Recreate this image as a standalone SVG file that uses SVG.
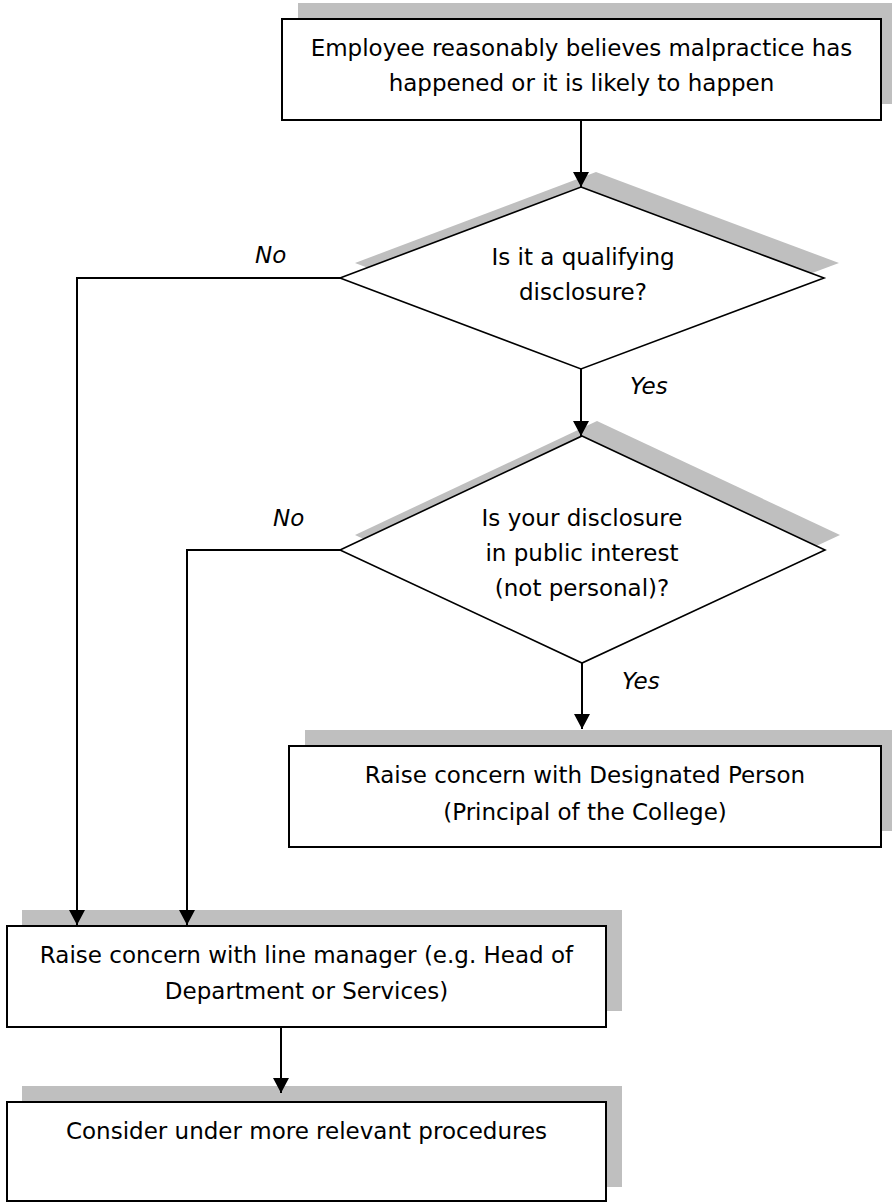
<svg xmlns="http://www.w3.org/2000/svg" width="892" height="1203" viewBox="0 0 892 1203">
<style>
.shadow{fill:#bfbfbf;stroke:none}
.box{fill:#fff;stroke:#000;stroke-width:2}
.dia{fill:#fff;stroke:#000;stroke-width:1.6}
.t{font-family:"DejaVu Sans",sans-serif;font-size:23px;fill:#000;text-anchor:middle}
.lbl{font-family:"DejaVu Sans",sans-serif;font-size:23px;font-style:italic;fill:#000}
.conn{fill:none;stroke:#000;stroke-width:2}
</style>
<defs>
<marker id="ah" markerUnits="userSpaceOnUse" viewBox="0 0 15 16" refX="15" refY="8" markerWidth="15" markerHeight="16" orient="auto"><path d="M0,0 L15,8 L0,16 Z" fill="#000"/></marker>
</defs>
<rect x="0" y="0" width="892" height="1203" fill="#fff"/>
<g id="n1">
<rect class="shadow" x="298" y="3" width="600" height="101"/>
<rect class="box" x="282" y="19" width="599" height="101"/>
<text class="t" x="581.5" y="56">Employee reasonably believes malpractice has</text>
<text class="t" x="581.5" y="91">happened or it is likely to happen</text>
</g>
<g id="d1">
<polygon class="shadow" points="596,172 839,263 596,354 355,263"/>
<polygon class="dia" points="581,187 824,278 581,369 340,278"/>
<text class="t" x="583" y="265">Is it a qualifying</text>
<text class="t" x="583" y="300">disclosure?</text>
</g>
<g id="d2">
<polygon class="shadow" points="597,421 840,535 597,648 355,535"/>
<polygon class="dia" points="582,436 825,550 582,663 340,550"/>
<text class="t" x="582" y="526">Is your disclosure</text>
<text class="t" x="582" y="561">in public interest</text>
<text class="t" x="582" y="596">(not personal)?</text>
</g>
<g id="n3">
<rect class="shadow" x="305" y="730" width="600" height="101"/>
<rect class="box" x="289" y="746" width="592" height="101"/>
<text class="t" x="585" y="783">Raise concern with Designated Person</text>
<text class="t" x="585" y="820">(Principal of the College)</text>
</g>
<g id="n4">
<rect class="shadow" x="22" y="910" width="600" height="101"/>
<rect class="box" x="7" y="926" width="599" height="101"/>
<text class="t" x="306.5" y="963">Raise concern with line manager (e.g. Head of</text>
<text class="t" x="306.5" y="999">Department or Services)</text>
</g>
<g id="n5">
<rect class="shadow" x="22" y="1086" width="600" height="101"/>
<rect class="box" x="7" y="1102" width="599" height="99"/>
<text class="t" x="306.5" y="1139">Consider under more relevant procedures</text>
</g>
<g id="connectors">
<path class="conn" d="M581,120 V187" marker-end="url(#ah)"/>
<path class="conn" d="M581,369 V436" marker-end="url(#ah)"/>
<path class="conn" d="M582,663 V729" marker-end="url(#ah)"/>
<path class="conn" d="M340,278 H77 V925" marker-end="url(#ah)"/>
<path class="conn" d="M340,550 H187 V925" marker-end="url(#ah)"/>
<path class="conn" d="M281,1027 V1093" marker-end="url(#ah)"/>
<text class="lbl" x="255" y="263">No</text>
<text class="lbl" x="630" y="394">Yes</text>
<text class="lbl" x="273" y="526">No</text>
<text class="lbl" x="622" y="689">Yes</text>
</g>
</svg>
